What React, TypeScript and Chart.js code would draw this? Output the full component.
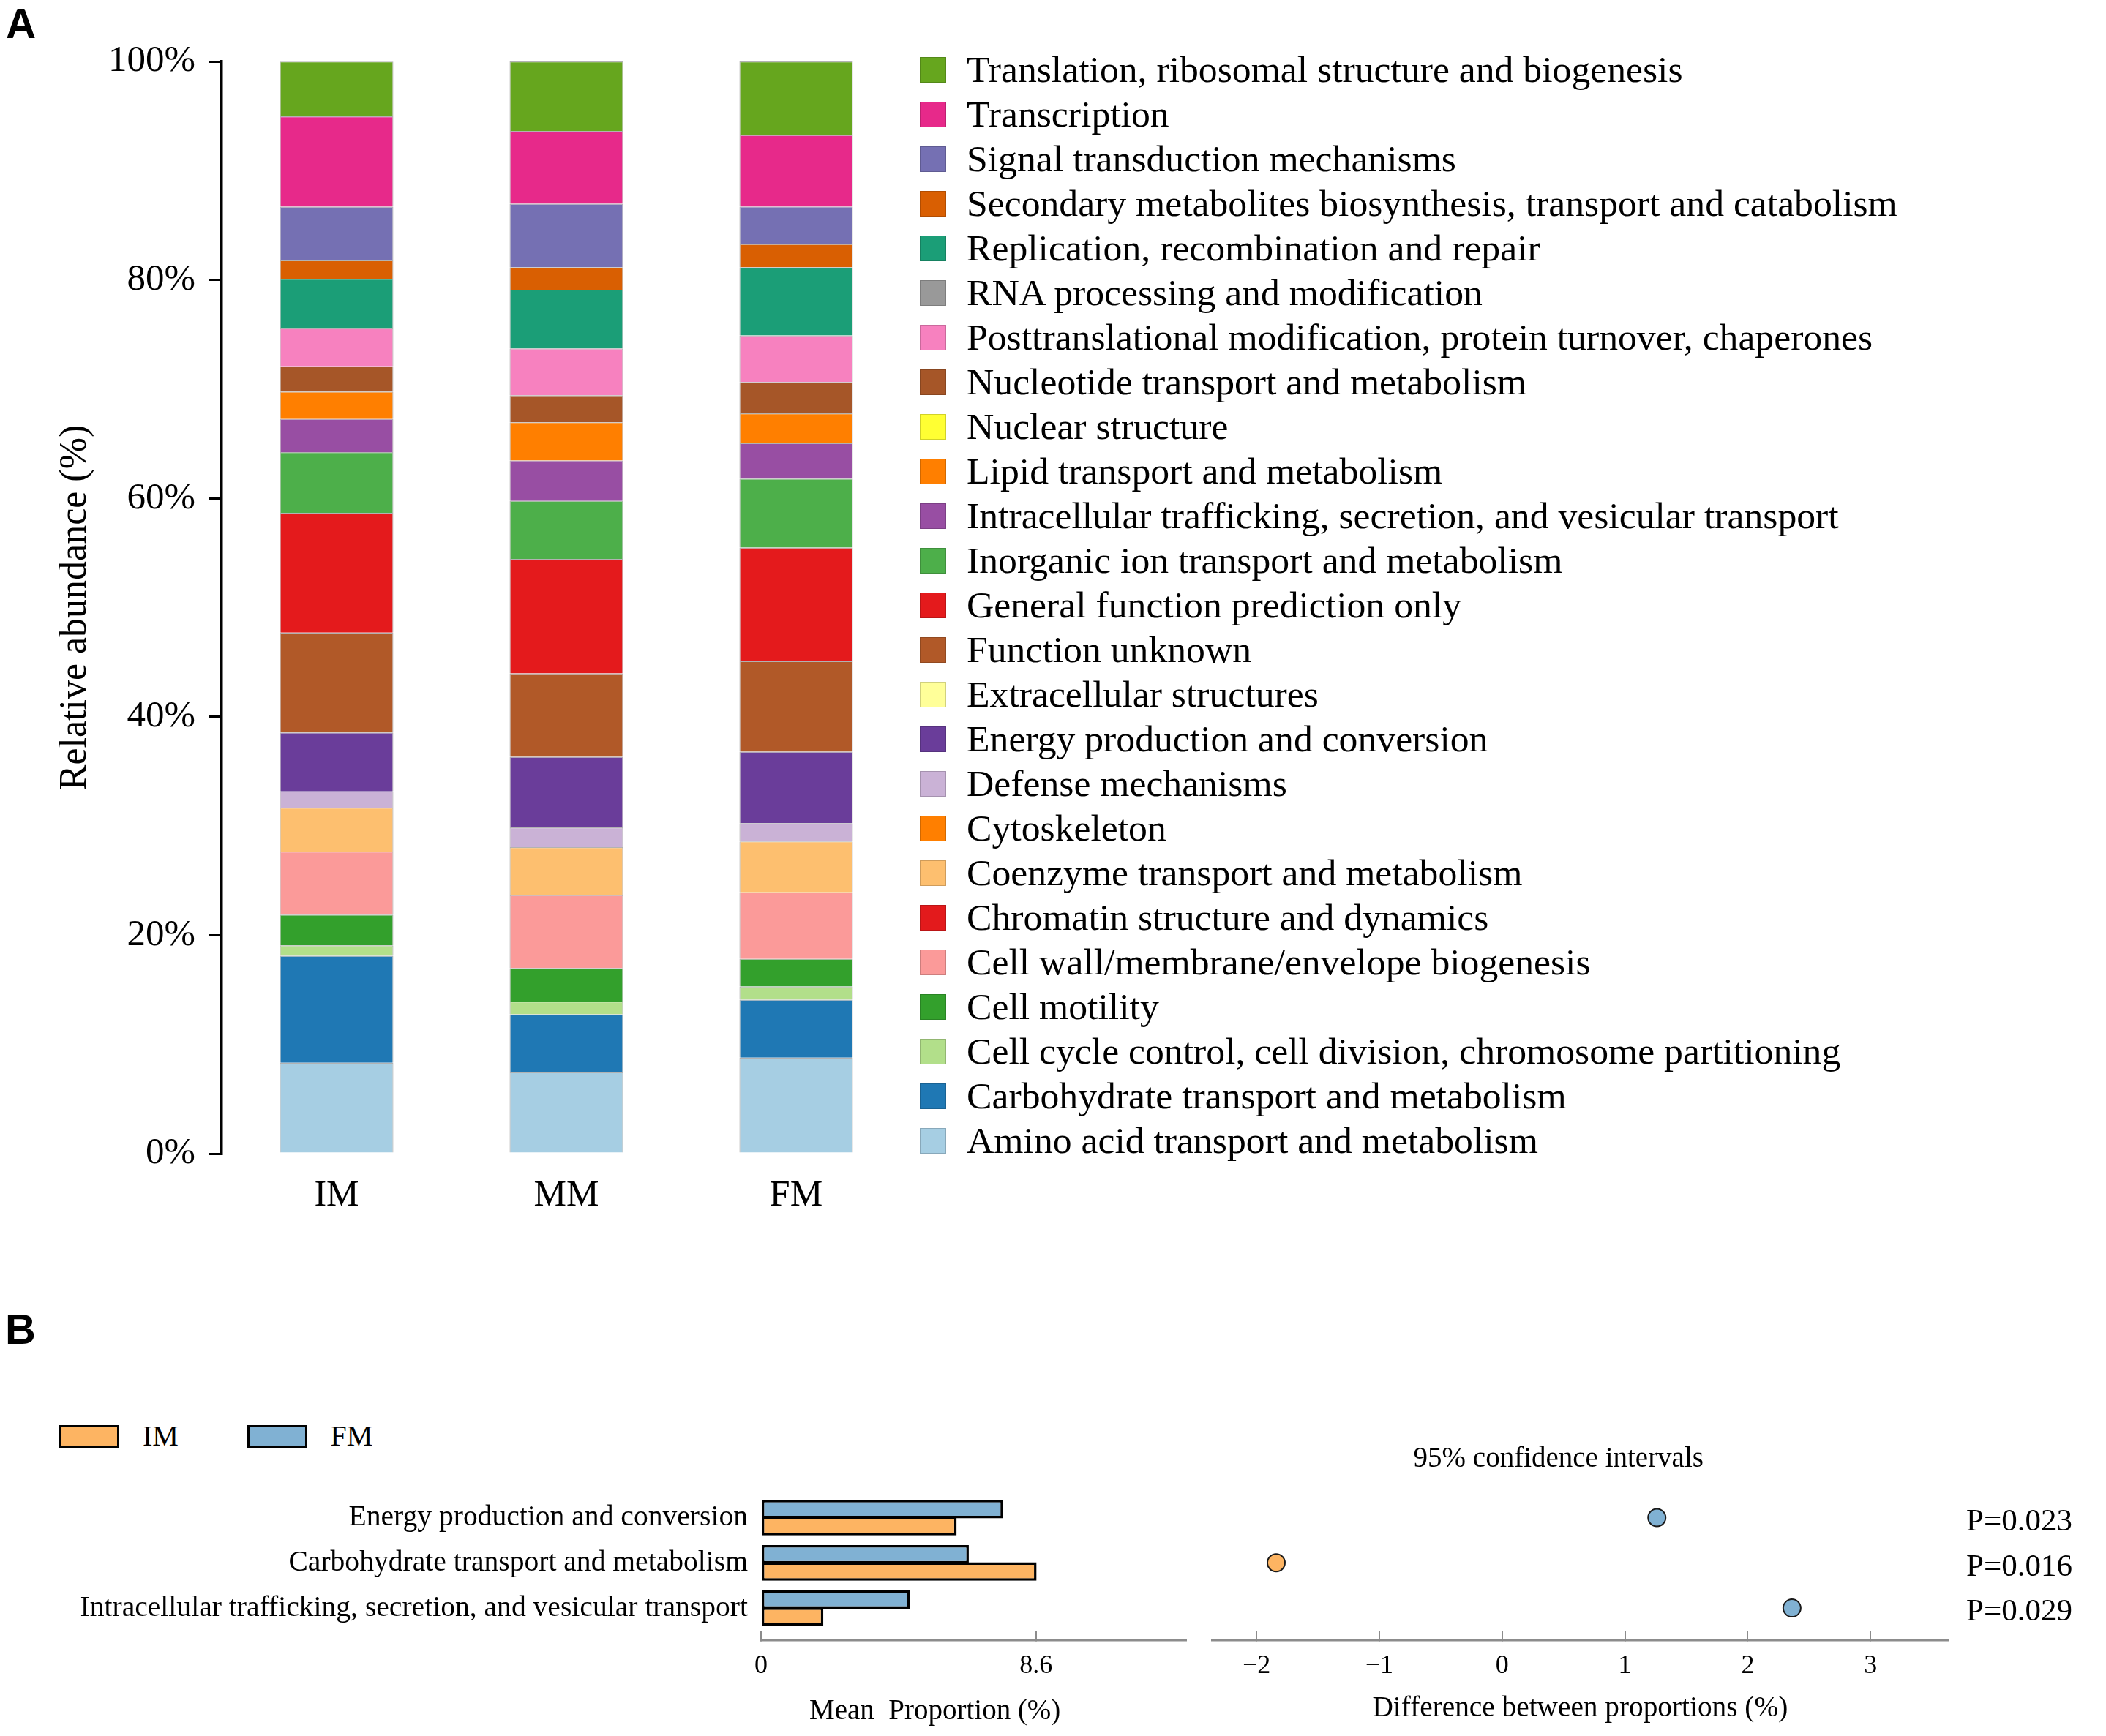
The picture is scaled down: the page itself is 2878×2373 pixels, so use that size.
import React, { useEffect, useRef } from "react";
import { Chart, registerables } from "chart.js";

Chart.register(...registerables);

const SERIF = "'Liberation Serif', 'Times New Roman', serif";
const SANS = "'Liberation Sans', Arial, sans-serif";

// ---------- Panel A data (stacking order: bottom -> top) ----------
const cogCategories = [
  "Amino acid transport and metabolism",
  "Carbohydrate transport and metabolism",
  "Cell cycle control, cell division, chromosome partitioning",
  "Cell motility",
  "Cell wall/membrane/envelope biogenesis",
  "Chromatin structure and dynamics",
  "Coenzyme transport and metabolism",
  "Cytoskeleton",
  "Defense mechanisms",
  "Energy production and conversion",
  "Extracellular structures",
  "Function unknown",
  "General function prediction only",
  "Inorganic ion transport and metabolism",
  "Intracellular trafficking, secretion, and vesicular transport",
  "Lipid transport and metabolism",
  "Nuclear structure",
  "Nucleotide transport and metabolism",
  "Posttranslational modification, protein turnover, chaperones",
  "RNA processing and modification",
  "Replication, recombination and repair",
  "Secondary metabolites biosynthesis, transport and catabolism",
  "Signal transduction mechanisms",
  "Transcription",
  "Translation, ribosomal structure and biogenesis",
];

const cogColors = [
  "#a6cee3", "#1f78b4", "#b2df8a", "#33a02c", "#fb9a99",
  "#e31a1c", "#fdbf6f", "#ff7f00", "#cab2d6", "#6a3d9a",
  "#ffff99", "#b15928", "#e41a1c", "#4daf4a", "#984ea3",
  "#ff7f00", "#ffff33", "#a65628", "#f781bf", "#999999",
  "#1b9e77", "#d95f02", "#7570b3", "#e7298a", "#66a61e",
];

const groups = ["IM", "MM", "FM"];

const imAbundance = [
  8.32, 9.79, 0.96, 2.81, 5.78, 0, 4.01, 0, 1.5, 5.39, 0, 9.14, 10.98,
  5.55, 3.04, 2.51, 0, 2.31, 3.47, 0, 4.55, 1.69, 4.9, 8.28, 5.01,
];
const mmAbundance = [
  7.44, 5.32, 1.16, 3.08, 6.67, 0, 4.39, 0, 1.81, 6.47, 0, 7.63, 10.48,
  5.32, 3.7, 3.5, 0, 2.47, 4.28, 0, 5.39, 2.05, 5.81, 6.67, 6.36,
];
const fmAbundance = [
  8.79, 5.31, 1.2, 2.54, 6.09, 0, 4.66, 0, 1.66, 6.55, 0, 8.29, 10.4,
  6.32, 3.24, 2.73, 0, 2.86, 4.27, 0, 6.25, 2.12, 3.43, 6.55, 6.74,
];

const abundanceTicks = [0, 20, 40, 60, 80, 100];

// ---------- Panel B data ----------
const diffCategories = [
  "Energy production and conversion",
  "Carbohydrate transport and metabolism",
  "Intracellular trafficking, secretion, and vesicular transport",
];
const imMean = [6.12, 8.62, 1.95];
const fmMean = [7.57, 6.5, 4.65];
const meanTicks = [0, 8.6];
const meanAxisMax = 13.3;

const diffValues = [1.26, -1.84, 2.36];
const pValues = ["P=0.023", "P=0.016", "P=0.029"];
const diffTicks = [-2, -1, 0, 1, 2, 3];
const diffMin = -2.36;
const diffMax = 3.63;

const IM_COLOR = "#FDB462";
const FM_COLOR = "#80B1D3";
const AXIS_GRAY = "#8c8c8c";

const noPad = (s: any) => {
  s.paddingTop = 0;
  s.paddingBottom = 0;
  s.paddingLeft = 0;
  s.paddingRight = 0;
};

export default function App() {
  const refA = useRef<HTMLCanvasElement | null>(null);
  const refB1 = useRef<HTMLCanvasElement | null>(null);
  const refB2 = useRef<HTMLCanvasElement | null>(null);

  useEffect(() => {
    Chart.defaults.font.family = SERIF;
    Chart.defaults.color = "#000";

    const charts: Chart[] = [];

    // ---- Panel A: stacked bars ----
    if (refA.current) {
      charts.push(
        new Chart(refA.current, {
          type: "bar",
          data: {
            labels: groups,
            datasets: cogCategories.map((name, i) => ({
              label: name,
              data: [imAbundance[i], mmAbundance[i], fmAbundance[i]],
              backgroundColor: cogColors[i],
              borderColor: "rgba(0,0,0,0.3)",
              borderWidth: 1.2,
              categoryPercentage: 1,
              barPercentage: 0.494,
            })),
          },
          options: {
            responsive: false,
            animation: false,
            layout: { padding: { top: 84, right: 5, left: 0, bottom: 0 } },
            plugins: { legend: { display: false }, tooltip: { enabled: false } },
            scales: {
              x: {
                stacked: true,
                grid: { display: false, drawTicks: false },
                border: { display: false },
                ticks: { color: "#000", font: { family: SERIF, size: 50 }, padding: 28 },
                afterFit: (s: any) => {
                  s.height = 123;
                },
              },
              y: {
                stacked: true,
                min: 0,
                max: 100,
                afterBuildTicks: (s: any) => {
                  s.ticks = abundanceTicks.map((v) => ({ value: v }));
                },
                ticks: {
                  callback: (v: any) => v + "%",
                  color: "#000",
                  font: { family: SERIF, size: 51 },
                  padding: 18,
                },
                grid: {
                  drawOnChartArea: false,
                  drawTicks: true,
                  tickLength: 18,
                  color: "#000",
                  lineWidth: 3,
                },
                border: { display: true, color: "#000", width: 3.5 },
                title: {
                  display: true,
                  text: "Relative abundance (%)",
                  color: "#000",
                  font: { family: SERIF, size: 52 },
                  padding: { top: 72, bottom: 0 },
                },
                afterFit: (s: any) => {
                  s.width = 303;
                },
              },
            },
          },
        } as any)
      );
    }

    // ---- Panel B left: mean proportions ----
    if (refB1.current) {
      charts.push(
        new Chart(refB1.current, {
          type: "bar",
          data: {
            labels: diffCategories,
            datasets: [
              {
                label: "FM",
                data: fmMean.map((v, i) => ({ x: v, y: i })),
                backgroundColor: FM_COLOR,
                borderColor: "#000",
                borderWidth: 3.5,
                borderSkipped: false,
                categoryPercentage: 0.76,
                barPercentage: 1.075,
              },
              {
                label: "IM",
                data: imMean.map((v, i) => ({ x: v, y: i })),
                backgroundColor: IM_COLOR,
                borderColor: "#000",
                borderWidth: 3.5,
                borderSkipped: false,
                categoryPercentage: 0.76,
                barPercentage: 1.075,
              },
            ],
          },
          options: {
            indexAxis: "y",
            responsive: false,
            animation: false,
            layout: { padding: { top: 43.6, right: 39, left: 0, bottom: 0 } },
            plugins: { legend: { display: false }, tooltip: { enabled: false } },
            scales: {
              x: {
                type: "linear",
                min: 0,
                max: meanAxisMax,
                afterBuildTicks: (s: any) => {
                  s.ticks = meanTicks.map((v) => ({ value: v }));
                },
                ticks: {
                  callback: (v: any) => String(v),
                  color: "#000",
                  font: { family: SERIF, size: 36 },
                  padding: 26,
                },
                grid: {
                  drawOnChartArea: false,
                  drawTicks: true,
                  tickLength: -12,
                  color: AXIS_GRAY,
                  lineWidth: 2,
                },
                border: { display: true, color: AXIS_GRAY, width: 3.5 },
                afterFit: (s: any) => {
                  s.height = 131;
                  noPad(s);
                },
              },
              y: {
                type: "linear",
                offset: false,
                min: -0.5,
                max: 2.71,
                reverse: true,
                afterBuildTicks: (s: any) => {
                  s.ticks = diffCategories.map((_, i) => ({ value: i }));
                },
                ticks: {
                  callback: (v: any) => diffCategories[v] ?? "",
                  color: "#000",
                  font: { family: SERIF, size: 39.6 },
                  padding: 18,
                },
                grid: { display: false, drawTicks: false, offset: false },
                border: { display: false },
                afterFit: (s: any) => {
                  s.width = 1040;
                  noPad(s);
                },
              },
            },
          },
        } as any)
      );
    }

    // ---- Panel B right: differences ----
    if (refB2.current) {
      charts.push(
        new Chart(refB2.current, {
          type: "scatter",
          data: {
            datasets: [
              {
                label: "Difference",
                data: diffValues.map((v, i) => ({ x: v, y: i })),
                pointRadius: 12,
                pointBorderWidth: 2,
                pointBorderColor: "#1a1a1a",
                pointBackgroundColor: diffValues.map((v) => (v < 0 ? IM_COLOR : FM_COLOR)),
              },
            ],
          },
          options: {
            responsive: false,
            animation: false,
            layout: { padding: { top: 43.6, right: 0, left: 16.7, bottom: 0 } },
            plugins: { legend: { display: false }, tooltip: { enabled: false } },
            scales: {
              x: {
                type: "linear",
                min: diffMin,
                max: diffMax,
                afterBuildTicks: (s: any) => {
                  s.ticks = diffTicks.map((v) => ({ value: v }));
                },
                ticks: {
                  callback: (v: any) => (v < 0 ? "\u2212" + Math.abs(v) : String(v)),
                  color: "#000",
                  font: { family: SERIF, size: 36 },
                  padding: 26,
                },
                grid: {
                  drawOnChartArea: false,
                  drawTicks: true,
                  tickLength: -12,
                  color: AXIS_GRAY,
                  lineWidth: 2,
                },
                border: { display: true, color: AXIS_GRAY, width: 3.5 },
                title: {
                  display: true,
                  text: "Difference between proportions (%)",
                  color: "#000",
                  font: { family: SERIF, size: 39.3 },
                  padding: { top: 0, bottom: 14 },
                },
                afterFit: (s: any) => {
                  s.height = 131;
                  noPad(s);
                },
              },
              y: {
                type: "linear",
                position: "right",
                min: -0.5,
                max: 2.71,
                reverse: true,
                afterBuildTicks: (s: any) => {
                  s.ticks = pValues.map((_, i) => ({ value: i }));
                },
                ticks: {
                  callback: (v: any) => pValues[v] ?? "",
                  color: "#000",
                  font: { family: SERIF, size: 43 },
                  padding: 25,
                  labelOffset: 6,
                },
                grid: { display: false, drawTicks: false },
                border: { display: false },
                afterFit: (s: any) => {
                  s.width = 216;
                  noPad(s);
                },
              },
            },
          },
        } as any)
      );
    }

    return () => {
      charts.forEach((c) => c.destroy());
    };
  }, []);

  const legendRows = cogCategories
    .map((name, i) => ({ name, color: cogColors[i] }))
    .reverse();

  const rowTop = 95;
  const rowStep = 61;

  return (
    <div
      style={{
        position: "absolute",
        left: 0,
        top: 0,
        width: 2878,
        height: 2373,
        background: "#fff",
        overflow: "hidden",
        fontFamily: SERIF,
        color: "#000",
      }}
    >
      {/* Panel labels */}
      <div
        style={{
          position: "absolute",
          left: 8,
          top: 3.6,
          fontFamily: SANS,
          fontWeight: 700,
          fontSize: 57,
          lineHeight: "57px",
        }}
      >
        A
      </div>
      <div
        style={{
          position: "absolute",
          left: 7,
          top: 1788,
          fontFamily: SANS,
          fontWeight: 700,
          fontSize: 58,
          lineHeight: "58px",
        }}
      >
        B
      </div>

      <canvas
        ref={refA}
        width={1250}
        height={1700}
        style={{ position: "absolute", left: 0, top: 0, display: "block" }}
      />

      {/* Panel A legend */}
      {legendRows.map((row, r) => {
        const cy = rowTop + rowStep * r;
        return (
          <React.Fragment key={row.name}>
            <div
              style={{
                position: "absolute",
                left: 1257,
                top: cy - 17.5,
                width: 36,
                height: 35,
                background: row.color,
                boxSizing: "border-box",
                border: "1px solid rgba(0,0,0,0.18)",
              }}
            />
            <div
              style={{
                position: "absolute",
                left: 1321,
                top: cy - 26,
                fontSize: 51.7,
                lineHeight: "52px",
                whiteSpace: "nowrap",
              }}
            >
              {row.name}
            </div>
          </React.Fragment>
        );
      })}

      {/* Panel B legend */}
      <div
        style={{
          position: "absolute",
          left: 81,
          top: 1947.6,
          width: 82,
          height: 32,
          background: IM_COLOR,
          border: "3.5px solid #000",
          boxSizing: "border-box",
        }}
      />
      <div style={{ position: "absolute", left: 195, top: 1943, fontSize: 40, lineHeight: "40px" }}>IM</div>
      <div
        style={{
          position: "absolute",
          left: 338,
          top: 1947.6,
          width: 82,
          height: 32,
          background: FM_COLOR,
          border: "3.5px solid #000",
          boxSizing: "border-box",
        }}
      />
      <div style={{ position: "absolute", left: 451.6, top: 1943, fontSize: 40, lineHeight: "40px" }}>FM</div>

      <canvas
        ref={refB1}
        width={1660}
        height={373}
        style={{ position: "absolute", left: 0, top: 2000, display: "block" }}
      />
      <canvas
        ref={refB2}
        width={1238}
        height={373}
        style={{ position: "absolute", left: 1640, top: 2000, display: "block" }}
      />

      <div
        style={{
          position: "absolute",
          left: 1931.6,
          top: 1971.5,
          fontSize: 39,
          lineHeight: "39px",
          whiteSpace: "nowrap",
        }}
      >
        95% confidence intervals
      </div>
      <div
        style={{
          position: "absolute",
          left: 1106,
          top: 2317,
          fontSize: 39,
          lineHeight: "39px",
          whiteSpace: "pre",
        }}
      >
        {"Mean  Proportion (%)"}
      </div>
    </div>
  );
}
